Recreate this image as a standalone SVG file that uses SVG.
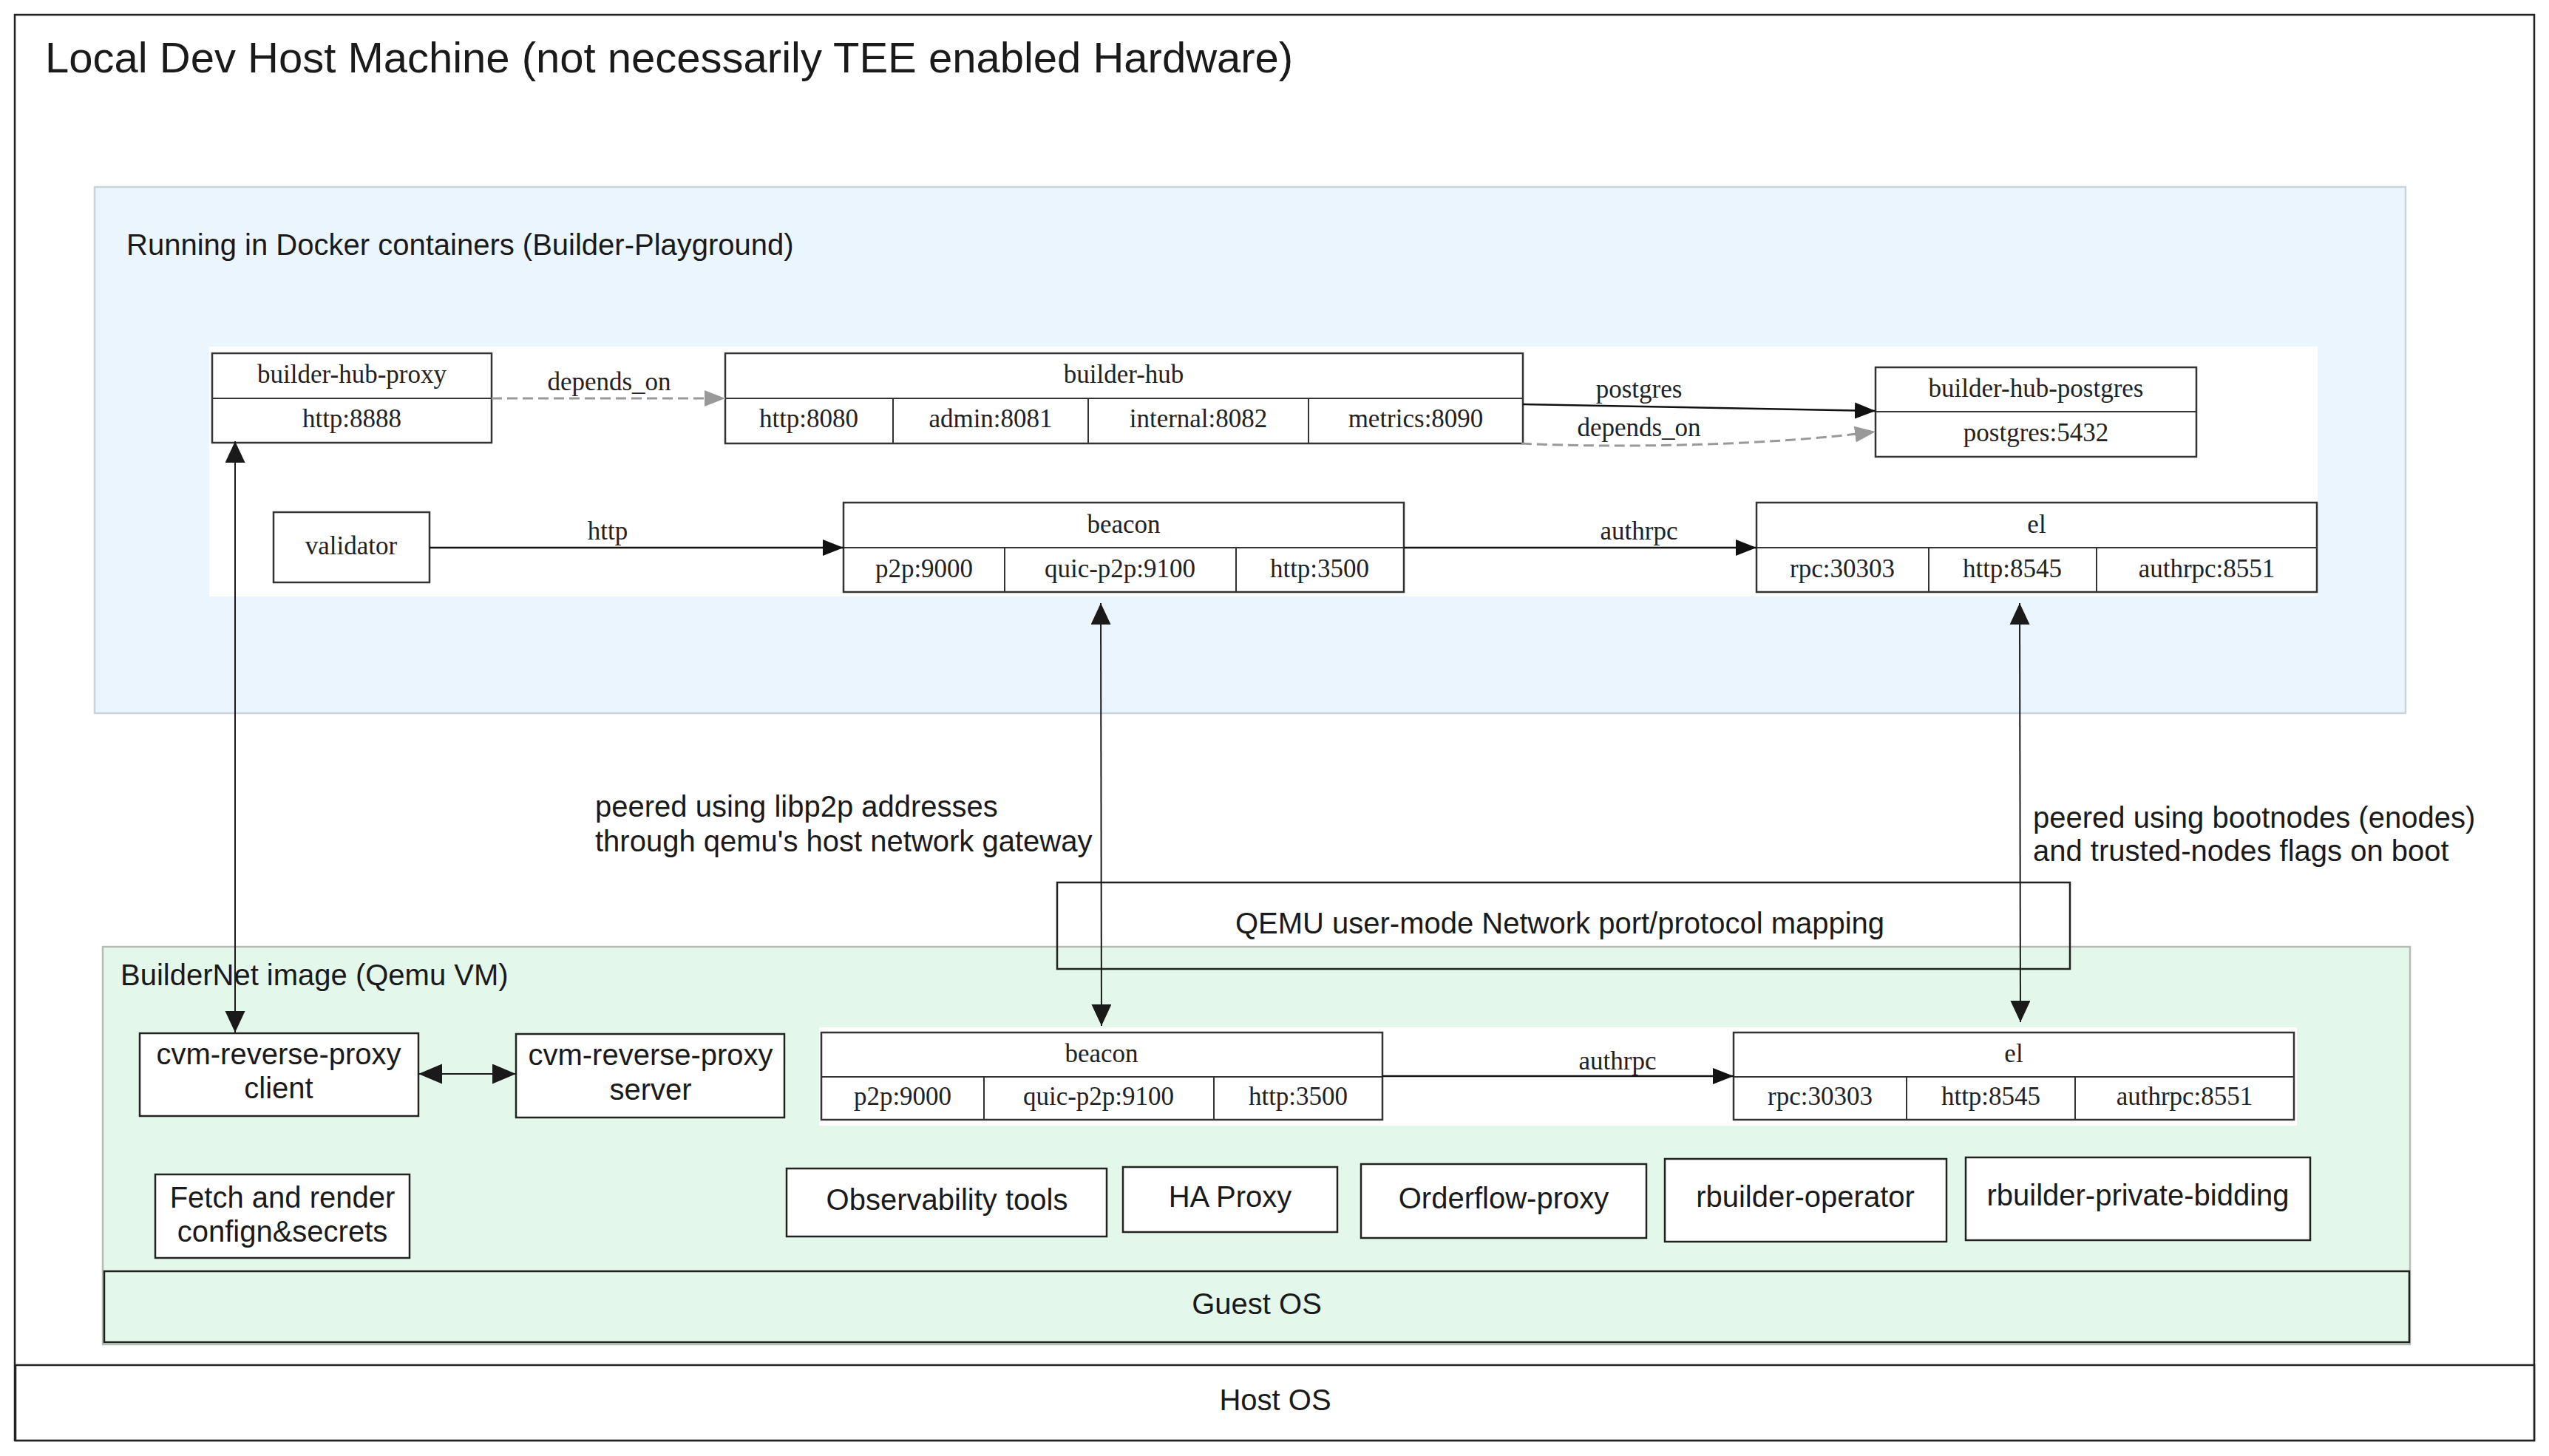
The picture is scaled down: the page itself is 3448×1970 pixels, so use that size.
<svg xmlns="http://www.w3.org/2000/svg" width="3448" height="1970" viewBox="0 0 3448 1970">
<style>
.sans{font-family:"Liberation Sans",Arial,sans-serif;fill:#1a1a1a}
.serif{font-family:"Liberation Serif","Times New Roman",serif;fill:#222;font-size:35px;text-anchor:middle}
.box{fill:#fff;stroke:#222;stroke-width:2.5}
.gv{fill:#fff;stroke:#333;stroke-width:2.5}
.div{stroke:#333;stroke-width:2}
.edge{fill:none;stroke:#111;stroke-width:2.5}
.dash{fill:none;stroke:#999;stroke-width:3;stroke-dasharray:14,7}
.vline{fill:none;stroke:#1a1a1a;stroke-width:2}
.c{text-anchor:middle}
</style>
<defs>
<marker id="ah" markerUnits="userSpaceOnUse" markerWidth="30" markerHeight="24" refX="28" refY="11" orient="auto"><path d="M0,0 L28,11 L0,22 z" fill="#111"/></marker>
<marker id="ahg" markerUnits="userSpaceOnUse" markerWidth="30" markerHeight="24" refX="28" refY="11" orient="auto"><path d="M0,0 L28,11 L0,22 z" fill="#999"/></marker>
<marker id="av" markerUnits="userSpaceOnUse" markerWidth="30" markerHeight="28" refX="29" refY="13.5" orient="auto-start-reverse"><path d="M0,0 L29,13.5 L0,27 z" fill="#1a1a1a"/></marker>
<marker id="ad" markerUnits="userSpaceOnUse" markerWidth="34" markerHeight="28" refX="32" refY="13.5" orient="auto-start-reverse"><path d="M0,0 L32,13.5 L0,27 z" fill="#1a1a1a"/></marker>
</defs>

<g id="host-machine">
<rect x="20" y="20" width="3408" height="1929" fill="#fff" stroke="#222" stroke-width="2.5"/>
<text class="sans" x="61" y="98" font-size="58">Local Dev Host Machine (not necessarily TEE enabled Hardware)</text>
</g>

<g id="host-os">
<rect class="box" x="21" y="1847" width="3407" height="102"/>
<text class="sans c" x="1725" y="1908" font-size="40">Host OS</text>
</g>

<g id="docker">
<rect x="128" y="253" width="3126" height="712" fill="#EBF5FE" stroke="#C9D3DB" stroke-width="2.5"/>
<text class="sans" x="171" y="345" font-size="40">Running in Docker containers (Builder-Playground)</text>
<rect x="283" y="469" width="2852" height="338" fill="#fff"/>
</g>

<g id="builder-hub-proxy">
<rect class="gv" x="287" y="478" width="378" height="121"/>
<line class="div" x1="287" y1="539" x2="665" y2="539"/>
<text class="serif" x="476" y="518">builder-hub-proxy</text>
<text class="serif" x="476" y="578">http:8888</text>
</g>

<g id="builder-hub">
<rect class="gv" x="981" y="478" width="1079" height="122"/>
<line class="div" x1="981" y1="539" x2="2060" y2="539"/>
<line class="div" x1="1208" y1="539" x2="1208" y2="600"/>
<line class="div" x1="1472" y1="539" x2="1472" y2="600"/>
<line class="div" x1="1770" y1="539" x2="1770" y2="600"/>
<text class="serif" x="1520" y="518">builder-hub</text>
<text class="serif" x="1094" y="578">http:8080</text>
<text class="serif" x="1340" y="578">admin:8081</text>
<text class="serif" x="1621" y="578">internal:8082</text>
<text class="serif" x="1915" y="578">metrics:8090</text>
</g>

<g id="builder-hub-postgres">
<rect class="gv" x="2537" y="497" width="434" height="121"/>
<line class="div" x1="2537" y1="557" x2="2971" y2="557"/>
<text class="serif" x="2754" y="537">builder-hub-postgres</text>
<text class="serif" x="2754" y="597">postgres:5432</text>
</g>

<g id="validator">
<rect class="gv" x="370" y="693" width="211" height="95"/>
<text class="serif" x="475" y="750">validator</text>
</g>

<g id="beacon-docker">
<rect class="gv" x="1141" y="680" width="758" height="121"/>
<line class="div" x1="1141" y1="741" x2="1899" y2="741"/>
<line class="div" x1="1359" y1="741" x2="1359" y2="801"/>
<line class="div" x1="1672" y1="741" x2="1672" y2="801"/>
<text class="serif" x="1520" y="721">beacon</text>
<text class="serif" x="1250" y="781">p2p:9000</text>
<text class="serif" x="1515" y="781">quic-p2p:9100</text>
<text class="serif" x="1785" y="781">http:3500</text>
</g>

<g id="el-docker">
<rect class="gv" x="2376" y="680" width="758" height="121"/>
<line class="div" x1="2376" y1="741" x2="3134" y2="741"/>
<line class="div" x1="2609" y1="741" x2="2609" y2="801"/>
<line class="div" x1="2836" y1="741" x2="2836" y2="801"/>
<text class="serif" x="2755" y="721">el</text>
<text class="serif" x="2492" y="781">rpc:30303</text>
<text class="serif" x="2722" y="781">http:8545</text>
<text class="serif" x="2985" y="781">authrpc:8551</text>
</g>

<g id="peer-labels">
<text class="sans" font-size="40" x="805"><tspan x="805" y="1105">peered using libp2p addresses</tspan><tspan x="805" y="1152">through qemu's host network gateway</tspan></text>
<text class="sans" font-size="40" x="2750"><tspan x="2750" y="1120">peered using bootnodes (enodes)</tspan><tspan x="2750" y="1165">and trusted-nodes flags on boot</tspan></text>
</g>

<g id="buildernet-vm">
<rect x="139" y="1281" width="3121" height="538" fill="#E3F8EA" stroke="#B4BCB5" stroke-width="2.5"/>
<text class="sans" x="163" y="1333" font-size="40">BuilderNet image (Qemu VM)</text>
<rect x="1108" y="1390" width="1999" height="133" fill="#fff"/>
</g>

<g id="guest-os">
<rect x="141" y="1720" width="3118" height="96" fill="#E3F8EA" stroke="#222" stroke-width="2.5"/>
<text class="sans c" x="1700" y="1778" font-size="40">Guest OS</text>
</g>

<g id="qemu-mapping">
<rect x="1430" y="1194" width="1370" height="117" fill="none" stroke="#222" stroke-width="2.5"/>
<text class="sans c" x="2110" y="1263" font-size="40">QEMU user-mode Network port/protocol mapping</text>
</g>

<g id="cvm-client">
<rect class="box" x="189" y="1398" width="377" height="112"/>
<text class="sans c" font-size="40"><tspan x="377" y="1440">cvm-reverse-proxy</tspan><tspan x="377" y="1486">client</tspan></text>
</g>

<g id="cvm-server">
<rect class="box" x="698" y="1399" width="363" height="113"/>
<text class="sans c" font-size="40"><tspan x="880" y="1441">cvm-reverse-proxy</tspan><tspan x="880" y="1488">server</tspan></text>
</g>

<g id="fetch-render">
<rect class="box" x="210" y="1589" width="344" height="113"/>
<text class="sans c" font-size="40"><tspan x="382" y="1634">Fetch and render</tspan><tspan x="382" y="1680">confign&amp;secrets</tspan></text>
</g>

<g id="beacon-vm">
<rect class="gv" x="1111" y="1397" width="759" height="118"/>
<line class="div" x1="1111" y1="1457" x2="1870" y2="1457"/>
<line class="div" x1="1331" y1="1457" x2="1331" y2="1515"/>
<line class="div" x1="1642" y1="1457" x2="1642" y2="1515"/>
<text class="serif" x="1490" y="1437">beacon</text>
<text class="serif" x="1221" y="1495">p2p:9000</text>
<text class="serif" x="1486" y="1495">quic-p2p:9100</text>
<text class="serif" x="1756" y="1495">http:3500</text>
</g>

<g id="el-vm">
<rect class="gv" x="2345" y="1397" width="758" height="118"/>
<line class="div" x1="2345" y1="1457" x2="3103" y2="1457"/>
<line class="div" x1="2579" y1="1457" x2="2579" y2="1515"/>
<line class="div" x1="2807" y1="1457" x2="2807" y2="1515"/>
<text class="serif" x="2724" y="1437">el</text>
<text class="serif" x="2462" y="1495">rpc:30303</text>
<text class="serif" x="2693" y="1495">http:8545</text>
<text class="serif" x="2955" y="1495">authrpc:8551</text>
</g>

<g id="observability">
<rect class="box" x="1064" y="1581" width="433" height="92"/>
<text class="sans c" x="1281" y="1637" font-size="40">Observability tools</text>
</g>
<g id="ha-proxy">
<rect class="box" x="1519" y="1579" width="290" height="88"/>
<text class="sans c" x="1664" y="1633" font-size="40">HA Proxy</text>
</g>
<g id="orderflow-proxy">
<rect class="box" x="1841" y="1575" width="386" height="100"/>
<text class="sans c" x="2034" y="1635" font-size="40">Orderflow-proxy</text>
</g>
<g id="rbuilder-operator">
<rect class="box" x="2252" y="1568" width="381" height="112"/>
<text class="sans c" x="2442" y="1633" font-size="40">rbuilder-operator</text>
</g>
<g id="rbuilder-private-bidding">
<rect class="box" x="2659" y="1566" width="466" height="112"/>
<text class="sans c" x="2892" y="1631" font-size="40">rbuilder-private-bidding</text>
</g>

<g id="connectors">
<path class="dash" d="M665,539 L981,539" marker-end="url(#ahg)"/>
<text class="serif" x="824" y="528">depends_on</text>
<path class="edge" d="M2060,547 L2537,556" marker-end="url(#ah)"/>
<text class="serif" x="2217" y="538">postgres</text>
<path class="dash" d="M2058,600 C2200,607 2400,602 2537,584" marker-end="url(#ahg)"/>
<text class="serif" x="2217" y="590">depends_on</text>
<path class="edge" d="M581,741 L1141,741" marker-end="url(#ah)"/>
<text class="serif" x="822" y="730">http</text>
<path class="edge" d="M1899,741 L2376,741" marker-end="url(#ah)"/>
<text class="serif" x="2217" y="730">authrpc</text>
<path class="edge" d="M1870,1456 L2345,1456" marker-end="url(#ah)"/>
<text class="serif" x="2188" y="1447">authrpc</text>
<path class="vline" d="M318,597 L318,1397" marker-start="url(#av)" marker-end="url(#av)"/>
<path class="vline" d="M1489,816 L1490,1388" marker-start="url(#av)" marker-end="url(#av)"/>
<path class="vline" d="M2732,816 L2733,1383" marker-start="url(#av)" marker-end="url(#av)"/>
<path class="vline" d="M566,1453 L698,1453" stroke-width="2.5" marker-start="url(#ad)" marker-end="url(#ad)"/>
</g>
</svg>
